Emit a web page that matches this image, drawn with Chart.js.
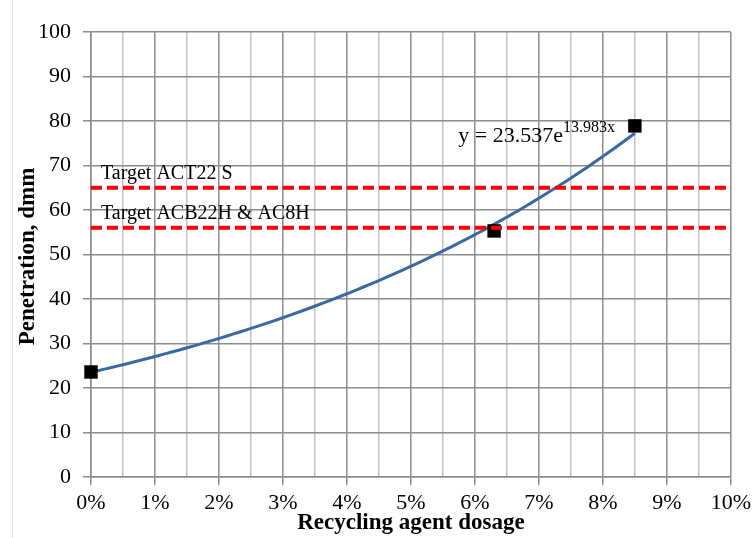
<!DOCTYPE html>
<html>
<head>
<meta charset="utf-8">
<script src="https://cdn.jsdelivr.net/npm/chart.js@4/dist/chart.umd.min.js"></script>
<style>
  html, body { margin: 0; padding: 0; background: #ffffff; }
  #wrap { width: 756px; height: 538px; position: relative; }
</style>
</head>
<body>
<div id="wrap"><canvas id="chart" width="756" height="538"></canvas></div>
<script>
// Measured penetration vs. recycling agent dosage
const dosage = [0, 0.063, 0.085];
const penetration = [23.6, 55.3, 78.9];

// Exponential trendline y = A * e^(B x), shown over the tested dosage range
const trendA = 23.537;
const trendB = 13.983;
const trendRange = [0, 0.085];

// Target penetration levels
const targetNames = ['Target ACT22 S', 'Target ACB22H & AC8H'];
const targetValues = [65, 56];

// Axis ranges
const xTickValues = [0, 0.01, 0.02, 0.03, 0.04, 0.05, 0.06, 0.07, 0.08, 0.09, 0.1];
const yTickValues = [0, 10, 20, 30, 40, 50, 60, 70, 80, 90, 100];

const SERIF = "'Liberation Serif', 'Times New Roman', serif";

const trendPoints = [];
const steps = 80;
for (let i = 0; i <= steps; i++) {
  const x = trendRange[0] + (trendRange[1] - trendRange[0]) * i / steps;
  trendPoints.push({ x: x, y: trendA * Math.exp(trendB * x) });
}

const scatterPoints = dosage.map((d, i) => ({ x: d, y: penetration[i] }));

const targetDatasets = targetValues.map((v, i) => ({
  label: targetNames[i],
  type: 'line',
  data: [{ x: xTickValues[0], y: v }, { x: xTickValues[xTickValues.length - 1], y: v }],
  borderColor: '#ff0000',
  borderWidth: 4,
  borderDash: [11, 5],
  borderCapStyle: 'butt',
  pointRadius: 0,
  fill: false,
  order: 0
}));

function isMajorX(v) {
  return Math.abs(v * 100 - Math.round(v * 100)) < 1e-6;
}

const textPlugin = {
  id: 'chartText',
  afterDraw(chart) {
    const ctx = chart.ctx;
    const xs = chart.scales.x;
    const ys = chart.scales.y;
    ctx.save();

    // chart frame line on the left edge
    ctx.strokeStyle = '#e3e3e3';
    ctx.lineWidth = 1;
    ctx.beginPath();
    ctx.moveTo(12.5, 0);
    ctx.lineTo(12.5, 538);
    ctx.stroke();

    ctx.fillStyle = '#000000';

    // target labels above each dashed line
    ctx.font = '20px ' + SERIF;
    ctx.textAlign = 'left';
    ctx.textBaseline = 'middle';
    targetValues.forEach((v, i) => {
      ctx.fillText(targetNames[i], xs.getPixelForValue(0) + 10, ys.getPixelForValue(v) - 14);
    });

    // trendline equation
    const ex = xs.getPixelForValue(0.0574);
    const ey = ys.getPixelForValue(76.6);
    ctx.font = '22px ' + SERIF;
    const base = 'y = ' + trendA.toFixed(3) + 'e';
    ctx.fillText(base, ex, ey);
    const w = ctx.measureText(base).width;
    ctx.font = '16px ' + SERIF;
    ctx.fillText(trendB.toFixed(3) + 'x', ex + w, ey - 8);

    // axis titles
    ctx.font = 'bold 23px ' + SERIF;
    ctx.textAlign = 'center';
    ctx.fillText('Recycling agent dosage', (xs.left + xs.right) / 2, 523);

    ctx.translate(28, (ys.top + ys.bottom) / 2 + 2);
    ctx.rotate(-Math.PI / 2);
    ctx.fillText('Penetration, dmm', 0, 0);

    ctx.restore();
  }
};

new Chart(document.getElementById('chart'), {
  type: 'scatter',
  data: {
    datasets: [
      {
        label: 'Penetration',
        data: scatterPoints,
        pointStyle: 'rect',
        pointRadius: 9.5,
        pointHoverRadius: 9.5,
        backgroundColor: '#000000',
        borderColor: '#000000',
        borderWidth: 0,
        showLine: false,
        clip: false,
        order: 1
      },
      {
        label: 'Trend',
        type: 'line',
        data: trendPoints,
        borderColor: '#3a68a0',
        borderWidth: 3,
        pointRadius: 0,
        tension: 0,
        fill: false,
        order: 2
      },
      ...targetDatasets
    ]
  },
  options: {
    responsive: false,
    animation: false,
    layout: { padding: { top: 32, right: 23, left: 0, bottom: 0 } },
    plugins: {
      legend: { display: false },
      tooltip: { enabled: false }
    },
    scales: {
      x: {
        type: 'linear',
        min: 0,
        max: 0.1,
        afterFit(scale) { scale.height = 61; },
        afterBuildTicks(scale) {
          const t = [];
          for (let i = 0; i <= 20; i++) t.push({ value: i * 0.005 });
          scale.ticks = t;
        },
        ticks: {
          autoSkip: false,
          maxRotation: 0,
          padding: 5,
          color: '#000000',
          font: { family: SERIF, size: 22 },
          callback(v) { return isMajorX(v) ? Math.round(v * 100) + '%' : ''; }
        },
        grid: {
          color(c) { return isMajorX(c.tick.value) ? '#8c8c8c' : '#c2c2c2'; },
          tickColor(c) { return isMajorX(c.tick.value) ? '#8c8c8c' : 'rgba(0,0,0,0)'; },
          lineWidth: 1.5,
          tickLength: 8
        },
        border: { color: '#8c8c8c', width: 1.5 }
      },
      y: {
        min: 0,
        max: 100,
        afterFit(scale) { scale.width = 91; },
        afterBuildTicks(scale) {
          scale.ticks = yTickValues.map(v => ({ value: v }));
        },
        ticks: {
          padding: 12,
          color: '#000000',
          font: { family: SERIF, size: 22 }
        },
        grid: {
          color: '#8c8c8c',
          tickColor: '#8c8c8c',
          lineWidth: 1.5,
          tickLength: 8
        },
        border: { color: '#8c8c8c', width: 1.5 }
      }
    }
  },
  plugins: [textPlugin]
});
</script>
</body>
</html>
